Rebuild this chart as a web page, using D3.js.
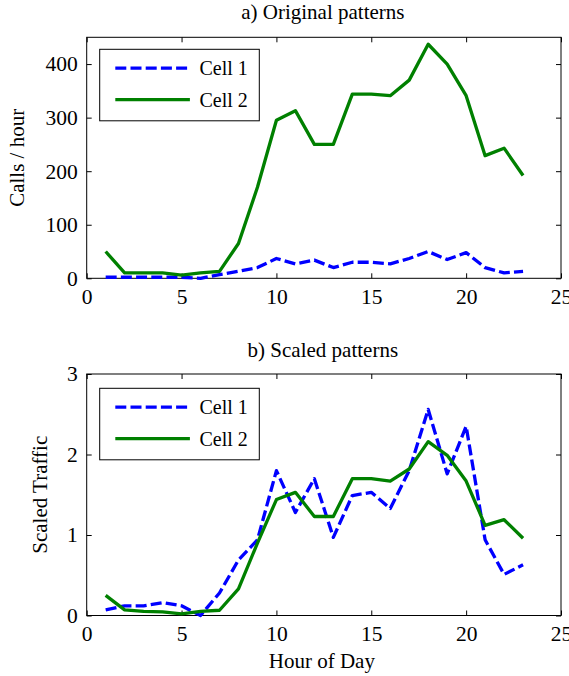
<!DOCTYPE html>
<html>
<head>
<meta charset="utf-8">
<script src="https://cdn.jsdelivr.net/npm/d3@7"></script>
<style>
	body { margin: 0; background: #fff; }
	svg text { font-family: "Liberation Serif", "Times New Roman", serif; fill: #000; }
</style>
</head>
<body>
<div id="chart"></div>
<script>
var	hours	= d3.range(1, 24),
	xTicks	= [0, 5, 10, 15, 20, 25],
	origTicks	= [0, 100, 200, 300, 400],
	scaledTicks	= [0, 1, 2, 3],
	seriesNames	= ["Cell 1", "Cell 2"];

// a) calls per hour
var	origCell1	= [2, 2, 2, 2, 2, 0, 7, 13, 20, 37, 27, 34, 20, 30, 30, 27, 37, 50, 35, 48, 20, 10, 13],
	origCell2	= [50, 10, 10, 10, 6, 10, 13, 65, 170, 295, 313, 250, 250, 344, 344, 341, 370, 437, 400, 341, 229, 243, 192];

// b) scaled traffic
var	scaledCell1	= [0.07, 0.12, 0.12, 0.16, 0.12, 0.0, 0.28, 0.69, 0.94, 1.80, 1.28, 1.70, 0.97, 1.49, 1.53, 1.33, 1.80, 2.56, 1.76, 2.35, 0.94, 0.51, 0.63],
	scaledCell2	= [0.25, 0.07, 0.05, 0.045, 0.02, 0.05, 0.065, 0.33, 0.90, 1.44, 1.53, 1.23, 1.23, 1.70, 1.70, 1.67, 1.82, 2.16, 1.99, 1.67, 1.12, 1.19, 0.96];

var	W = 569, H = 676,
	FONT	= "Liberation Serif, Times New Roman, serif",
	styles	= [
		{color: "#0000ff", dash: "11,4.2"},
		{color: "#008000", dash: null}
	];

var svg = d3.select("#chart").append("svg").attr("width", W).attr("height", H);

function panel(opt) {
	var	x	= d3.scaleLinear().domain([0, 25]).range([opt.left, opt.right]),
		y	= d3.scaleLinear().domain(opt.yDomain).range([opt.bottom, opt.top]),
		g	= svg.append("g"),
		tk	= 5;

	var line = d3.line()
		.x(function(d) { return x(d.h); })
		.y(function(d) { return y(d.v); });

	function noDomain(a) { a.select(".domain").remove(); a.attr("font-family", FONT).attr("font-size", 21.5); }

	// ticks, MATLAB style: inside, on all four sides
	g.append("g").attr("transform", "translate(0," + opt.bottom + ")")
		.call(d3.axisBottom(x).tickValues(xTicks).tickSize(-tk).tickPadding(10).tickFormat(d3.format("d")))
		.call(noDomain);
	g.append("g").attr("transform", "translate(0," + opt.top + ")")
		.call(d3.axisTop(x).tickValues(xTicks).tickSize(-tk).tickFormat(""))
		.call(noDomain);
	g.append("g").attr("transform", "translate(" + opt.left + ",0)")
		.call(d3.axisLeft(y).tickValues(opt.yTicks).tickSize(-tk).tickPadding(9).tickFormat(d3.format("d")))
		.call(noDomain);
	g.append("g").attr("transform", "translate(" + opt.right + ",0)")
		.call(d3.axisRight(y).tickValues(opt.yTicks).tickSize(-tk).tickFormat(""))
		.call(noDomain);
	g.selectAll(".tick line").attr("stroke", "#000");

	g.append("rect")
		.attr("x", opt.left).attr("y", opt.top)
		.attr("width", opt.right - opt.left).attr("height", opt.bottom - opt.top)
		.attr("fill", "none").attr("stroke", "#000").attr("stroke-width", 1);

	opt.series.forEach(function(s, i) {
		var pts = hours.map(function(h, j) { return {h: h, v: s[j]}; });
		g.append("path")
			.attr("d", line(pts))
			.attr("fill", "none")
			.attr("stroke", styles[i].color)
			.attr("stroke-width", 3.3)
			.attr("stroke-linejoin", "round")
			.attr("stroke-dasharray", styles[i].dash);
	});

	g.append("text")
		.attr("x", (opt.left + opt.right) / 2 - 1).attr("y", opt.top - opt.titleDy)
		.attr("text-anchor", "middle").attr("font-size", 21)
		.text(opt.title);

	g.append("text")
		.attr("transform", "translate(" + opt.yLabelX + "," + ((opt.top + opt.bottom) / 2) + ") rotate(-90)")
		.attr("text-anchor", "middle").attr("font-size", 21)
		.text(opt.yLabel);

	if (opt.xLabel)
		g.append("text")
			.attr("x", (opt.left + opt.right) / 2 - 2).attr("y", opt.bottom + 52.3)
			.attr("text-anchor", "middle").attr("font-size", 21)
			.text(opt.xLabel);

	// legend
	var	lg	= g.append("g").attr("transform", "translate(" + (opt.left + 13) + "," + (opt.top + opt.legendDy) + ")");
	lg.append("rect").attr("width", 159.6).attr("height", 71.5)
		.attr("fill", "#fff").attr("stroke", "#000").attr("stroke-width", 1);
	seriesNames.forEach(function(n, i) {
		var ly = 18.8 + i * 31.6;
		lg.append("line")
			.attr("x1", 15.6).attr("x2", 87.6 + i * 2.6).attr("y1", ly).attr("y2", ly)
			.attr("stroke", styles[i].color).attr("stroke-width", 3.3)
			.attr("stroke-dasharray", styles[i].dash);
		lg.append("text").attr("x", 99.8).attr("y", ly + 7).attr("font-size", 20).text(n);
	});
}

panel({
	left: 86.7, right: 561, top: 37.3, bottom: 278.3,
	yDomain: [0, 450], yTicks: origTicks,
	series: [origCell1, origCell2],
	title: "a) Original patterns", titleDy: 18.8,
	yLabel: "Calls / hour", yLabelX: 24.2,
	legendDy: 12
});

panel({
	left: 86.7, right: 561, top: 374, bottom: 615.5,
	yDomain: [0, 3], yTicks: scaledTicks,
	series: [scaledCell1, scaledCell2],
	title: "b) Scaled patterns", titleDy: 17.5,
	yLabel: "Scaled Traffic", yLabelX: 46.7,
	xLabel: "Hour of Day",
	legendDy: 14.3
});
</script>
</body>
</html>
